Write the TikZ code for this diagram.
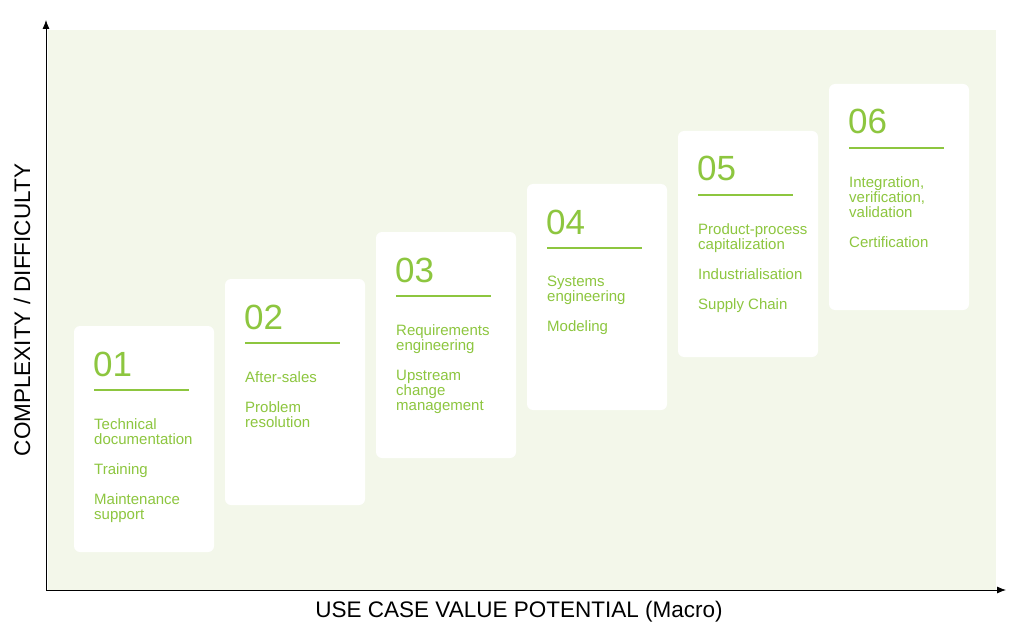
\documentclass[tikz,border=0pt]{standalone}
\usepackage{fontspec}
\setmainfont{Liberation Sans}
\usetikzlibrary{arrows.meta}
\definecolor{leaf}{HTML}{8DC63F}
\definecolor{panel}{HTML}{F3F7EA}
\begin{document}
\begin{tikzpicture}[
    x=1pt, y=-1pt,
    card/.style={fill=white, rounded corners=6pt},
    num/.style={anchor=base west, text=leaf, font=\fontsize{35}{35}\selectfont, inner sep=0pt},
    items/.style={anchor=north west, text=leaf, font=\fontsize{15}{15}\selectfont, align=left, inner sep=0pt},
    axis/.style={-{Latex[length=9pt,width=7pt]}, thick},
    axislabel/.style={font=\fontsize{22.5}{22.5}\selectfont}
]
\useasboundingbox (0,0) rectangle (1030,639);
\fill[panel] (48,30) rectangle (996,590);

% cards
\foreach \n/\x/\y/\txt in {
    01/74/326/{Technical\\documentation\\[15pt]Training\\[15pt]Maintenance\\support},
    02/225/279/{After-sales\\[15pt]Problem\\resolution},
    03/376/232/{Requirements\\engineering\\[15pt]Upstream\\change\\management},
    04/527/184/{Systems\\engineering\\[15pt]Modeling},
    05/678/131/{Product-process\\capitalization\\[15pt]Industrialisation\\[15pt]Supply Chain},
    06/829/84/{Integration,\\verification,\\validation\\[15pt]Certification}}{
  \fill[card] (\x,\y) rectangle ++(140,226);
  \node[num] (num\n) at (\x+19,\y+50) {\n};
  \draw[leaf, line width=1.8pt] (\x+20,\y+64) -- ++(95,0);
  \node[items] (items\n) at (\x+20,\y+92) {\txt};
}

% axes
\coordinate (origin) at (46,590);
\coordinate (ytip) at (46,20);
\coordinate (xtip) at (1006,590);
\draw[axis] (origin) -- (ytip);
\draw[axis] (origin) -- (xtip);
\node[axislabel, rotate=90] (ylab) at (22,310) {COMPLEXITY / DIFFICULTY};
\node[axislabel] (xlab) at (519,612) {USE CASE VALUE POTENTIAL (Macro)};
\end{tikzpicture}
\end{document}
